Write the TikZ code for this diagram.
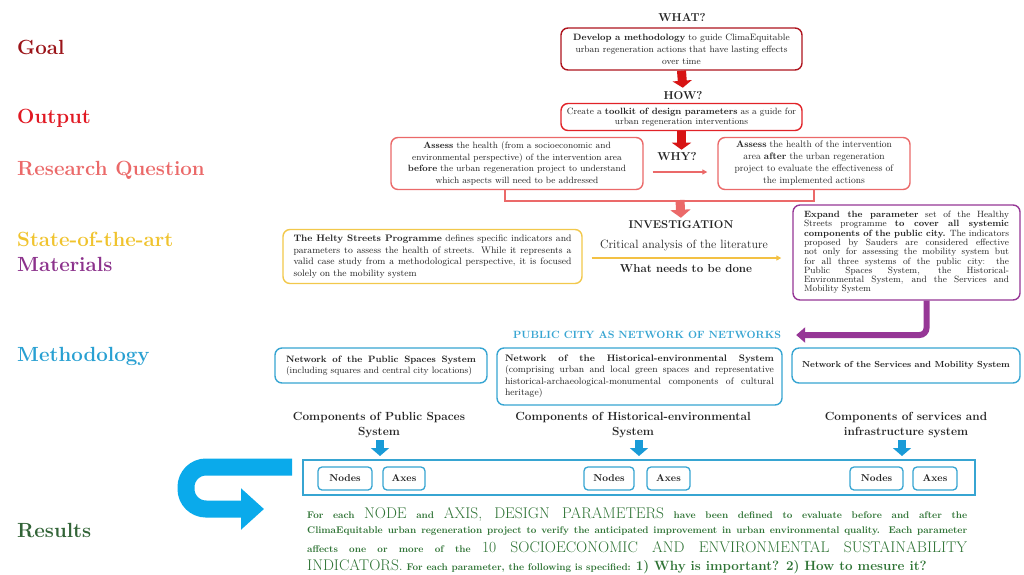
\documentclass[tikz,border=0pt]{standalone}
\usetikzlibrary{arrows.meta}
\definecolor{cGoal}{RGB}{155,20,25}
\definecolor{cOut}{RGB}{225,25,35}
\definecolor{cRQ}{RGB}{235,105,105}
\definecolor{cSota}{RGB}{240,195,45}
\definecolor{cMat}{RGB}{140,50,140}
\definecolor{cMeth}{RGB}{40,160,210}
\definecolor{cRes}{RGB}{50,100,55}
\definecolor{cGreen}{RGB}{46,115,52}
\definecolor{cBoxA}{RGB}{175,20,30}
\definecolor{cBoxB}{RGB}{225,35,40}
\definecolor{cRedArr}{RGB}{215,20,20}
\definecolor{cSalmon}{RGB}{235,105,105}
\definecolor{cYel}{RGB}{242,200,75}
\definecolor{cPur}{RGB}{150,55,150}
\definecolor{cBlue}{RGB}{55,165,210}
\definecolor{cArrB}{RGB}{25,155,215}
\definecolor{cC}{RGB}{10,170,235}
\definecolor{cTxt}{RGB}{35,35,35}
\newdimen\jw
\newcommand\JL[1]{\makebox[\jw][s]{\spaceskip=0pt\xspaceskip=0pt #1}\\}
\newcommand\rsm{\fontsize{9.7}{12}\selectfont\bfseries}
\newcommand\rbg{\fontsize{15.5}{18}\selectfont\mdseries}
\newcommand\rmd{\fontsize{13.4}{16}\selectfont\bfseries}
\tikzset{
  lbl/.style={anchor=base west, inner sep=0pt, font=\fontsize{20.5}{24}\selectfont\bfseries},
  box/.style={draw, rounded corners=7pt, line width=1.4pt, text=cTxt, align=center, inner sep=0pt},
  jbox/.style={box, align=left},
  hd/.style={font=\fontsize{11.5}{14}\selectfont\bfseries, text=cTxt, inner sep=1pt},
  redarrow/.style={draw=cRedArr, line width=9pt, -{Triangle[length=7pt,width=19pt]}},
  salarrow/.style={draw=cSalmon, line width=9pt, -{Triangle[length=8pt,width=20pt]}},
  barrow/.style={draw=cArrB, line width=8pt, -{Triangle[length=8pt,width=18pt]}},
  comp/.style={font=\fontsize{11.8}{15}\selectfont\bfseries, text=cTxt, align=center, inner sep=0pt},
  na/.style={draw=cBlue, line width=1.3pt, rounded corners=4pt, font=\fontsize{10}{12}\selectfont\bfseries, text=cTxt, minimum height=23pt, inner sep=0pt},
  res/.style={anchor=base west, inner sep=0pt, text=cGreen, font=\rsm}
}
\begin{document}
\begin{tikzpicture}[x=1pt,y=-1pt]
\useasboundingbox (0,0) rectangle (1024,574);
\fill[white] (0,0) rectangle (1024,574);

% left labels
\node[lbl, text=cGoal] (lGoal) at (17,54) {Goal};
\node[lbl, text=cOut] (lOut) at (17,123) {Output};
\node[lbl, text=cRQ] (lRQ) at (17,175) {Research Question};
\node[lbl, text=cSota] (lSota) at (17,246) {State-of-the-art};
\node[lbl, text=cMat] (lMat) at (17,271) {Materials};
\node[lbl, text=cMeth] (lMeth) at (17,361) {Methodology};
\node[lbl, text=cRes] (lRes) at (17,537) {Results};

% top
\node[hd] (what) at (682,18) {WHAT?};
\node[box, draw=cBoxA, minimum width=241pt, minimum height=42pt, font=\fontsize{9.2}{12}\selectfont] (goalbox) at (681.5,49)
  {\textbf{Develop a methodology} to guide ClimaEquitable\\urban regeneration actions that have lasting effects\\over time};
\node[hd] (how) at (683,96) {HOW?};
\node[box, draw=cBoxB, minimum width=241pt, minimum height=27pt, font=\fontsize{9.1}{10.5}\selectfont] (outbox) at (681.5,117)
  {Create a \textbf{toolkit of design parameters} as a guide for\\urban regeneration interventions};
\node[hd] (why) at (677,157) {WHY?};
\draw[redarrow, shorten >=3pt] (goalbox.south) -- (how.north);
\draw[redarrow] (outbox.south) -- ([yshift=2pt]outbox.south |- why.north);

\node[box, draw=cSalmon, minimum width=252pt, minimum height=52pt, font=\fontsize{9.1}{11.5}\selectfont] (b3) at (517,163.5)
  {\textbf{Assess} the health (from a socioeconomic and\\environmental perspective) of the intervention area\\\textbf{before} the urban regeneration project to understand\\which aspects will need to be addressed};
\node[box, draw=cSalmon, minimum width=192pt, minimum height=52pt, font=\fontsize{9.5}{12}\selectfont] (b4) at (814,163.5)
  {\textbf{Assess} the health of the intervention\\area \textbf{after} the urban regeneration\\project to evaluate the effectiveness of\\the implemented actions};
\draw[cSalmon, line width=1.4pt, -{Triangle[length=5pt,width=5pt]}] ([shift={(9pt,-8.5pt)}]b3.east) -- ([shift={(-10pt,-8.5pt)}]b4.west);
\draw[cSalmon, line width=1.5pt] ([xshift=-12pt]b3.south) -- ++(0,11) -| (b4.south);
\coordinate (jn) at (680,200);

% investigation
\node[font=\fontsize{11.3}{13}\selectfont\bfseries, text=cTxt, inner sep=1pt] (inv) at (681,225) {INVESTIGATION};
\node[font=\fontsize{12}{14}\selectfont, text=cTxt, inner sep=1pt] (crit) at (684,245) {Critical analysis of the literature};
\node[font=\fontsize{11.5}{14}\selectfont\bfseries, text=cTxt, inner sep=1pt] (todo) at (686,269) {What needs to be done};
\draw[salarrow, shorten >=2pt] (jn) -- (inv.north);

\node[jbox, draw=cYel, minimum width=299pt, minimum height=54pt, text width=278pt, font=\fontsize{9.4}{11.5}\selectfont] (yb) at (432.5,256.5)
  {\jw=278pt
   \JL{\textbf{The Helty Streets Programme} defines specific indicators and}
   \JL{parameters to assess the health of streets. While it represents a}
   \JL{valid case study from a methodological perspective, it is focused}
   solely on the mobility system};
\node[jbox, draw=cPur, minimum width=227pt, minimum height=95pt, text width=205pt, font=\fontsize{9.1}{9.3}\selectfont] (pb) at (906.5,252.5)
  {\jw=205pt
   \JL{\textbf{Expand the parameter} set of the Healthy}
   \JL{Streets programme \textbf{to cover all systemic}}
   \JL{\textbf{components of the public city.} The indicators}
   \JL{proposed by Sauders are considered effective}
   \JL{not only for assessing the mobility system but}
   \JL{for all three systems of the public city: the}
   \JL{Public Spaces System, the Historical-}
   \JL{Environmental System, and the Services and}
   Mobility System};
\coordinate (yl) at (0,258);
\draw[cYel!90!orange, line width=1.6pt, shorten <=9pt, shorten >=11pt, -{Triangle[length=5pt,width=5pt]}] (yb.east |- yl) -- (pb.west |- yl);

% methodology
\node[font=\fontsize{10.5}{12}\selectfont\bfseries, text=cBlue, inner sep=1pt] (pc) at (647,335) {PUBLIC CITY AS NETWORK OF NETWORKS};
\draw[cPur, line width=6pt, rounded corners=7pt, -{Triangle[length=9pt,width=15pt]}] ([xshift=20pt]pb.south) |- ([xshift=14pt]pc.east);

\node[jbox, draw=cBlue, minimum width=212pt, minimum height=35pt, text width=190pt, font=\fontsize{9.2}{11}\selectfont] (nA) at (381,365.5)
  {\jw=190pt
   \JL{\textbf{Network of the Public Spaces System}}
   (including squares and central city locations)};
\node[jbox, draw=cBlue, minimum width=285pt, minimum height=57pt, text width=269pt, font=\fontsize{9.4}{11.5}\selectfont] (nB) at (639.5,376.5)
  {\jw=269pt
   \JL{\textbf{Network of the Historical-environmental System}}
   \JL{(comprising urban and local green spaces and representative}
   \JL{historical-archaeological-monumental components of cultural}
   heritage)};
\node[box, draw=cBlue, minimum width=228pt, minimum height=35pt, font=\fontsize{8.8}{11}\selectfont\bfseries] (nC) at (906,365.5)
  {Network of the Services and Mobility System};

\node[comp] (hA) at (379,425) {Components of Public Spaces\\System};
\node[comp] (hB) at (633,425) {Components of Historical-environmental\\System};
\node[comp] (hC) at (906,425) {Components of services and\\infrastructure system};

\node[draw=cBlue, line width=2pt, minimum width=672pt, minimum height=35pt, inner sep=0pt] (big) at (639,477.5) {};
\coordinate (aA) at (380,440);
\coordinate (aB) at (639,440);
\coordinate (aC) at (902,440);
\draw[barrow, shorten >=3pt] (aA) -- (aA |- big.north);
\draw[barrow, shorten >=3pt] (aB) -- (aB |- big.north);
\draw[barrow, shorten >=3pt] (aC) -- (aC |- big.north);

\node[na, minimum width=54pt] (n1) at (345,478.5) {Nodes};
\node[na, minimum width=42pt] (x1) at (404,478.5) {Axes};
\node[na, minimum width=50pt] (n2) at (609,478.5) {Nodes};
\node[na, minimum width=43pt] (x2) at (668.5,478.5) {Axes};
\node[na, minimum width=53pt] (n3) at (876.5,478.5) {Nodes};
\node[na, minimum width=44pt] (x3) at (935,478.5) {Axes};

% curved arrow
\draw[cC, line width=17pt, rounded corners=20pt, -{Triangle[length=23pt,width=40pt]}] (292,467) -- (186,467) -- (186,509) -- (264,509);

% results text
\node[res] (r1) at (307,518) {\makebox[660pt][s]{For each {\rbg NODE} and {\rbg AXIS, DESIGN PARAMETERS} have been defined to evaluate before and after the}};
\node[res] (r2) at (307,533) {\makebox[660pt][s]{ClimaEquitable urban regeneration project to verify the anticipated improvement in urban environmental quality. Each parameter}};
\node[res] (r3) at (307,552) {\makebox[660pt][s]{affects one or more of the {\rbg 10 SOCIOECONOMIC AND ENVIRONMENTAL SUSTAINABILITY}}};
\node[res] (r4) at (307,570) {{\rbg INDICATORS.} For each parameter, the following is specified: {\rmd 1) Why is important? 2) How to mesure it?}};
\end{tikzpicture}
\end{document}
